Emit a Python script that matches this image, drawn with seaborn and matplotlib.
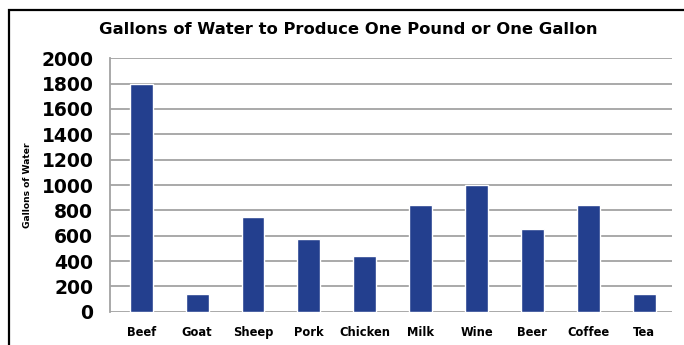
import matplotlib
matplotlib.use("Agg")
import matplotlib.pyplot as plt
from matplotlib.patches import Rectangle
import seaborn as sns
import pandas as pd

sns.set_style("white")
plt.rcParams["font.family"] = ["DejaVu Sans"]
plt.rcParams["text.color"] = "black"
plt.rcParams["xtick.color"] = "black"
plt.rcParams["ytick.color"] = "black"

products = ["Beef", "Goat", "Sheep", "Pork", "Chicken", "Milk", "Wine", "Beer", "Coffee", "Tea"]
gallons = [1800, 140, 750, 570, 440, 845, 1000, 650, 845, 140]
yTicks = [0, 200, 400, 600, 800, 1000, 1200, 1400, 1600, 1800, 2000]

waterData = pd.DataFrame({"Product": products, "Gallons": gallons})

gridColor = "#a3a3a3"
barColor = "#233f8e"

fig = plt.figure(figsize=(6.84, 3.45), dpi=100)
ax = fig.add_axes([110 / 684, 33.3 / 345, 562 / 684, 253.4 / 345])
ax.set_axisbelow(True)

sns.barplot(x="Product", y="Gallons", data=waterData, color=barColor,
            width=0.41, saturation=1, ax=ax)

ax.set_ylim(0, 2000)
ax.set_xlim(-0.56, 9.5)
ax.set_yticks(yTicks)
ax.set_yticklabels([str(t) for t in yTicks], fontsize=13.5, fontweight="heavy")
ax.set_xticks(range(len(products)))
ax.set_xticklabels(products, fontsize=8.3, fontweight="heavy")
ax.set_xlabel("")
ax.set_ylabel("")

ax.yaxis.grid(True, color=gridColor, linewidth=1.3)
ax.xaxis.grid(False)
for side in ["top", "right", "bottom"]:
    ax.spines[side].set_visible(False)
ax.spines["left"].set_color(gridColor)
ax.spines["left"].set_linewidth(1.3)
ax.tick_params(axis="y", length=4, width=1.3, color=gridColor, labelcolor="black", pad=8)
ax.tick_params(axis="x", length=0, pad=10, labelcolor="black")

fig.text(348 / 684, 1 - 30 / 345, "Gallons of Water to Produce One Pound or One Gallon",
         ha="center", va="center", fontsize=11.8, fontweight="bold", color="black")
fig.text(27.5 / 684, 1 - 185 / 345, "Gallons of Water", rotation=90,
         ha="center", va="center", fontsize=6.6, fontweight="bold", color="black")

# black frame cut off at the right and bottom
fig.patches.append(Rectangle((9 / 684, -0.2), 1.2, 1.2 - 10 / 345,
                             transform=fig.transFigure, fill=False,
                             edgecolor="black", linewidth=1.6))

fig.savefig("out.png", dpi=100)
